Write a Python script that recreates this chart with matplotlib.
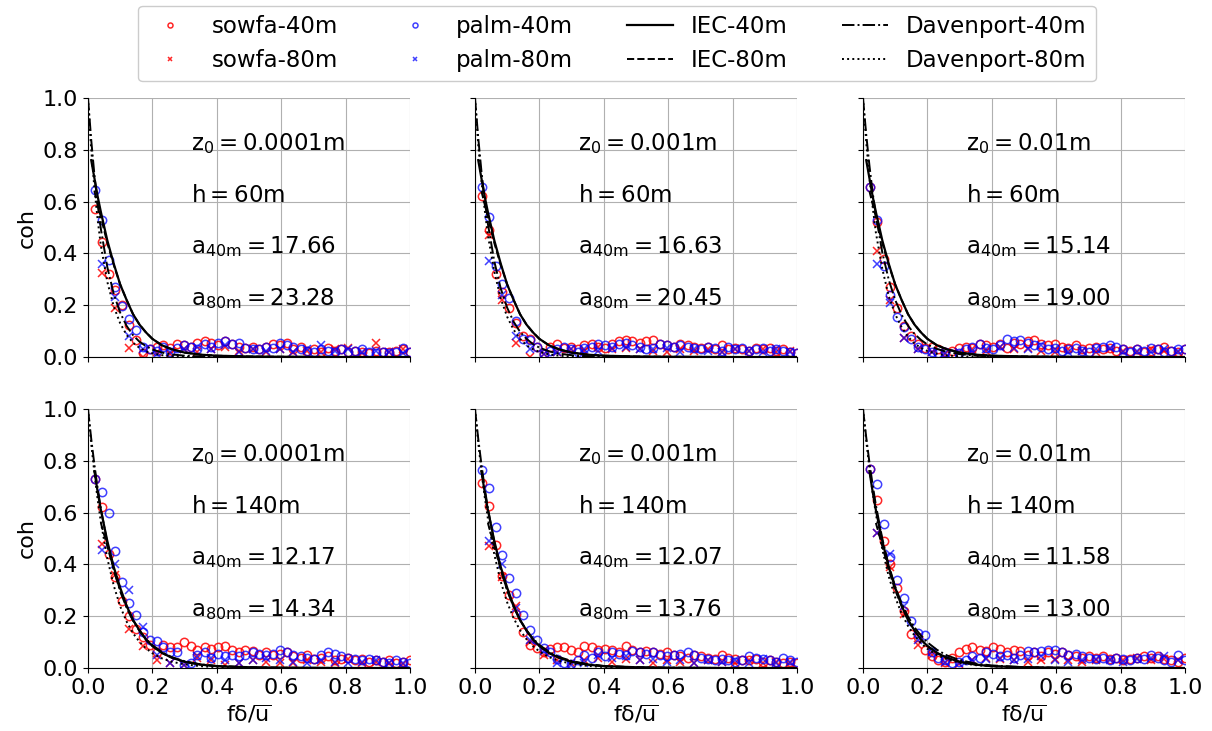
import numpy as np
import matplotlib
matplotlib.use("Agg")
import matplotlib.pyplot as plt

plt.rcParams['mathtext.default'] = 'regular'
plt.rcParams['font.family'] = ['DejaVu Sans']

nan = np.nan

# frequency axis (f*delta/u) for 40 m and 80 m separations
x40 = [0.021, 0.043, 0.064, 0.085, 0.106, 0.128, 0.149, 0.170, 0.191, 0.213,
       0.234, 0.255, 0.277, 0.298, 0.319, 0.340, 0.362, 0.383, 0.404, 0.426,
       0.447, 0.468, 0.489, 0.511, 0.532, 0.553, 0.574, 0.596, 0.617, 0.638,
       0.660, 0.681, 0.702, 0.723, 0.745, 0.766, 0.787, 0.809, 0.830, 0.851,
       0.872, 0.894, 0.915, 0.936, 0.957, 0.979, 1.000]
x80 = [0.043, 0.085, 0.128, 0.170, 0.213, 0.255, 0.298, 0.340, 0.383, 0.426,
       0.468, 0.511, 0.553, 0.596, 0.638, 0.681, 0.723, 0.766, 0.809, 0.851,
       0.894, 0.936, 0.979]
xline = [0.0, 0.01, 0.02, 0.03, 0.04, 0.06, 0.08, 0.10, 0.12, 0.14, 0.16,
         0.18, 0.20, 0.23, 0.26, 0.30, 0.35, 0.40, 0.50, 0.60, 0.80, 1.00]

panel_z0 = ['0.0001m', '0.001m', '0.01m', '0.0001m', '0.001m', '0.01m']
panel_h = ['60m', '60m', '60m', '140m', '140m', '140m']
panel_a40 = ['17.66', '16.63', '15.14', '12.17', '12.07', '11.58']
panel_a80 = ['23.28', '20.45', '19.00', '14.34', '13.76', '13.00']

# ---------- sowfa-40m ----------
sowfa40_A = [0.57, 0.445, 0.32, 0.26, 0.20, 0.125, 0.065, 0.015, 0.03, 0.04,
             0.045, 0.035, 0.05, 0.045, 0.04, 0.055, 0.06, 0.055, 0.045, 0.06,
             0.05, 0.04, 0.035, 0.04, 0.03, 0.04, 0.05, 0.045, 0.055, 0.03,
             0.04, 0.025, 0.03, 0.02, 0.035, 0.025, 0.03, 0.02, 0.025, 0.02,
             0.015, 0.025, 0.02, 0.02, 0.025, 0.03, 0.02]
sowfa40_B = [0.62, 0.49, 0.32, 0.25, 0.19, 0.13, 0.08, 0.07, 0.04, 0.01,
             0.04, 0.05, 0.035, 0.04, 0.03, 0.045, 0.05, 0.04, 0.035, 0.05,
             0.06, 0.065, 0.06, 0.055, 0.06, 0.065, 0.05, 0.045, 0.04, 0.05,
             0.045, 0.04, 0.035, 0.04, 0.03, 0.045, 0.03, 0.035, 0.03, 0.025,
             0.035, 0.03, 0.035, 0.025, 0.03, 0.02, 0.015]
sowfa40_C = [0.657, 0.52, 0.38, 0.27, 0.19, 0.12, 0.08, 0.05, 0.035, 0.04,
             0.03, 0.02, 0.025, 0.035, 0.04, 0.035, 0.05, 0.045, 0.04, 0.05,
             0.035, 0.055, 0.05, 0.06, 0.065, 0.05, 0.045, 0.05, 0.04, 0.035,
             0.045, 0.03, 0.035, 0.04, 0.03, 0.035, 0.025, 0.03, 0.025, 0.03,
             0.02, 0.025, 0.03, 0.04, 0.025, 0.02, 0.03]
sowfa40_D = [0.73, 0.62, 0.44, 0.35, 0.26, 0.20, 0.15, 0.12, 0.09, 0.06,
             0.09, 0.08, 0.08, 0.10, 0.085, 0.07, 0.08, 0.075, 0.08, 0.085,
             0.07, 0.06, 0.07, 0.065, 0.05, 0.06, 0.05, 0.055, 0.06, 0.045,
             0.04, 0.05, 0.035, 0.04, 0.045, 0.03, 0.035, 0.04, 0.03, 0.035,
             0.025, 0.03, 0.025, 0.03, 0.02, 0.025, 0.03]
sowfa40_E = [0.715, 0.625, 0.476, 0.355, 0.283, 0.21, 0.14, 0.09, 0.077, 0.063,
             0.075, 0.08, 0.08, 0.07, 0.06, 0.085, 0.08, 0.07, 0.075, 0.07,
             0.06, 0.085, 0.07, 0.06, 0.065, 0.06, 0.055, 0.06, 0.05, 0.045,
             0.04, 0.05, 0.045, 0.04, 0.035, 0.05, 0.04, 0.035, 0.03, 0.03,
             0.035, 0.025, 0.03, 0.025, 0.02, 0.025, 0.02]
sowfa40_F = [0.77, 0.65, 0.49, 0.40, 0.31, 0.22, 0.13, 0.12, 0.07, 0.045,
             0.03, 0.025, 0.04, 0.06, 0.075, 0.08, 0.07, 0.065, 0.08, 0.075,
             0.06, 0.07, 0.065, 0.05, 0.06, 0.045, 0.06, 0.055, 0.06, 0.05,
             0.045, 0.04, 0.045, 0.04, 0.045, 0.035, 0.04, 0.03, 0.035, 0.04,
             0.045, 0.04, 0.045, 0.035, 0.03, 0.025, 0.04]

# ---------- palm-40m ----------
palm40_A = [0.645, 0.53, 0.375, 0.27, 0.197, 0.145, 0.105, 0.04, 0.03, 0.025,
            0.04, 0.02, 0.035, 0.045, 0.04, 0.03, 0.05, 0.04, 0.055, 0.06,
            0.05, 0.055, 0.035, 0.03, 0.03, 0.04, 0.035, 0.055, 0.045, 0.04,
            0.03, 0.025, 0.02, 0.03, 0.025, 0.02, 0.03, 0.02, 0.025, 0.03,
            0.02, 0.015, 0.02, 0.015, 0.02, 0.035, 0.02]
palm40_B = [0.657, 0.54, 0.35, 0.28, 0.226, 0.14, 0.07, 0.066, 0.04, 0.01,
            0.025, 0.03, 0.04, 0.03, 0.02, 0.035, 0.04, 0.05, 0.045, 0.04,
            0.05, 0.055, 0.045, 0.04, 0.03, 0.035, 0.05, 0.045, 0.04, 0.045,
            0.04, 0.035, 0.03, 0.04, 0.035, 0.025, 0.04, 0.03, 0.035, 0.025,
            0.03, 0.035, 0.025, 0.03, 0.025, 0.02, 0.015]
palm40_C = [0.657, 0.528, 0.35, 0.24, 0.155, 0.115, 0.07, 0.04, 0.03, 0.02,
            0.015, 0.02, 0.01, 0.015, 0.03, 0.04, 0.05, 0.035, 0.03, 0.045,
            0.07, 0.06, 0.065, 0.055, 0.045, 0.04, 0.03, 0.035, 0.025, 0.03,
            0.035, 0.025, 0.02, 0.035, 0.04, 0.045, 0.04, 0.03, 0.02, 0.03,
            0.025, 0.035, 0.03, 0.02, 0.025, 0.03, 0.03]
palm40_D = [0.73, 0.68, 0.60, 0.452, 0.332, 0.25, 0.205, 0.14, 0.108, 0.105,
            0.08, 0.06, 0.06, 0.01, 0.02, 0.05, 0.06, 0.04, 0.055, 0.045,
            0.05, 0.045, 0.05, 0.06, 0.055, 0.05, 0.055, 0.07, 0.06, 0.05,
            0.045, 0.04, 0.035, 0.05, 0.06, 0.055, 0.045, 0.04, 0.035, 0.03,
            0.035, 0.03, 0.025, 0.02, 0.03, 0.025, 0.02]
palm40_E = [0.765, 0.694, 0.545, 0.436, 0.346, 0.29, 0.205, 0.147, 0.108, 0.077,
            0.06, 0.035, 0.02, 0.015, 0.03, 0.05, 0.04, 0.06, 0.045, 0.06,
            0.055, 0.05, 0.065, 0.06, 0.055, 0.06, 0.05, 0.045, 0.05, 0.055,
            0.06, 0.05, 0.04, 0.035, 0.03, 0.035, 0.03, 0.025, 0.03, 0.045,
            0.04, 0.035, 0.03, 0.025, 0.04, 0.03, 0.025]
palm40_F = [0.77, 0.71, 0.555, 0.43, 0.34, 0.27, 0.18, 0.136, 0.127, 0.06,
            0.04, 0.03, 0.02, 0.025, 0.03, 0.045, 0.04, 0.06, 0.055, 0.045,
            0.05, 0.04, 0.05, 0.065, 0.06, 0.065, 0.07, 0.07, 0.06, 0.05,
            0.055, 0.045, 0.04, 0.035, 0.04, 0.03, 0.04, 0.035, 0.03, 0.04,
            0.035, 0.05, 0.04, 0.03, 0.025, 0.05, 0.03]

# ---------- sowfa-80m ----------
sowfa80_A = [0.325, 0.19, 0.034, 0.0, 0.02, 0.01, 0.03, 0.02, 0.03, 0.04, 0.025, 0.03,
             0.02, 0.03, 0.02, 0.025, 0.02, 0.03, 0.035, 0.015, 0.055, 0.02, 0.03]
sowfa80_B = [0.47, 0.22, 0.055, 0.0, 0.01, 0.02, 0.03, 0.025, 0.04, 0.03, 0.035, 0.03,
             0.025, 0.02, 0.03, 0.025, 0.03, 0.02, 0.03, 0.025, 0.03, 0.02, 0.025]
sowfa80_C = [0.41, 0.22, 0.075, 0.03, 0.02, 0.01, 0.02, 0.03, 0.025, 0.04, 0.03, 0.035,
             0.025, 0.02, 0.03, 0.025, 0.02, 0.03, 0.025, 0.02, 0.03, 0.025, 0.02]
sowfa80_D = [0.48, 0.36, 0.15, 0.085, 0.03, 0.02, 0.01, 0.04, 0.03, 0.01, 0.02, 0.03,
             0.025, 0.02, 0.02, 0.03, 0.025, 0.02, 0.035, 0.02, 0.025, 0.02, 0.015]
sowfa80_E = [0.47, 0.35, 0.24, 0.10, 0.05, 0.03, 0.02, 0.03, 0.04, 0.025, 0.035, 0.03,
             0.02, 0.03, 0.025, 0.02, 0.03, 0.025, 0.02, 0.03, 0.02, 0.025, 0.02]
sowfa80_F = [0.52, 0.39, 0.21, 0.09, 0.05, 0.02, 0.015, 0.03, 0.04, 0.035, 0.03, 0.025,
             0.03, 0.035, 0.03, 0.025, 0.03, 0.035, 0.03, 0.04, 0.03, 0.035, 0.03]

# ---------- palm-80m ----------
palm80_A = [0.36, 0.23, 0.08, 0.03, 0.01, 0.02, 0.03, 0.04, 0.03, 0.045, 0.02, 0.03,
            0.025, 0.03, 0.02, 0.03, 0.045, 0.025, 0.03, 0.02, 0.025, 0.02, 0.015]
palm80_B = [0.37, 0.24, 0.08, 0.03, 0.01, 0.02, 0.03, 0.03, 0.025, 0.035, 0.04, 0.03,
            0.03, 0.035, 0.02, 0.03, 0.025, 0.02, 0.03, 0.025, 0.02, 0.03, 0.02]
palm80_C = [0.36, 0.21, 0.075, 0.03, 0.02, 0.015, 0.02, 0.025, 0.03, 0.04, 0.035, 0.03,
            0.045, 0.03, 0.02, 0.025, 0.03, 0.035, 0.02, 0.025, 0.02, 0.03, 0.025]
palm80_D = [0.455, 0.40, 0.30, 0.16, 0.05, 0.02, 0.01, 0.045, 0.04, 0.03, 0.02, 0.03,
            0.04, 0.03, 0.025, 0.02, 0.03, 0.025, 0.02, 0.025, 0.03, 0.02, 0.02]
palm80_E = [0.49, 0.40, 0.23, 0.11, 0.065, 0.02, 0.01, 0.02, 0.05, 0.04, 0.045, 0.03,
            0.035, 0.025, 0.03, 0.02, 0.03, 0.025, 0.03, 0.02, 0.035, 0.02, 0.025]
palm80_F = [0.52, 0.44, 0.24, 0.11, 0.06, 0.025, 0.02, 0.03, 0.035, 0.04, 0.03, 0.035,
            0.045, 0.03, 0.025, 0.03, 0.035, 0.03, 0.025, 0.035, 0.04, 0.045, 0.03]

# ---------- model curves (sampled at xline) ----------
iec40_top = [nan, 0.76, 0.69, 0.62, 0.56, 0.45, 0.36, 0.28, 0.22, 0.165, 0.125,
             0.095, 0.07, 0.045, 0.03, 0.017, 0.009, 0.005, 0.002, 0.001, 0.0, 0.0]
iec80_top = [nan, nan, 0.64, 0.59, 0.54, 0.44, 0.355, 0.28, 0.22, 0.165, 0.125,
             0.095, 0.07, 0.045, 0.03, 0.017, 0.009, 0.005, 0.002, 0.001, 0.0, 0.0]
iec40_bot = [nan, nan, 0.76, 0.68, 0.61, 0.49, 0.39, 0.31, 0.24, 0.185, 0.145,
             0.11, 0.085, 0.058, 0.04, 0.024, 0.013, 0.007, 0.003, 0.001, 0.0, 0.0]
iec80_bot = [nan, nan, nan, nan, 0.56, 0.47, 0.38, 0.30, 0.24, 0.185, 0.145,
             0.11, 0.085, 0.058, 0.04, 0.024, 0.013, 0.007, 0.003, 0.001, 0.0, 0.0]

dav40_A = [1.0, 0.838, 0.702, 0.589, 0.494, 0.347, 0.243, 0.171, 0.120, 0.084, 0.059,
           0.042, 0.029, 0.017, 0.010, 0.005, 0.002, 0.001, 0.0, 0.0, 0.0, 0.0]
dav40_B = [1.0, 0.847, 0.717, 0.607, 0.514, 0.369, 0.264, 0.190, 0.136, 0.097, 0.070,
           0.050, 0.036, 0.022, 0.013, 0.007, 0.003, 0.001, 0.0, 0.0, 0.0, 0.0]
dav40_C = [1.0, 0.859, 0.739, 0.635, 0.546, 0.403, 0.298, 0.220, 0.163, 0.120, 0.089,
           0.066, 0.048, 0.031, 0.020, 0.011, 0.005, 0.002, 0.001, 0.0, 0.0, 0.0]
dav40_D = [1.0, 0.885, 0.784, 0.694, 0.615, 0.482, 0.378, 0.296, 0.232, 0.182, 0.143,
           0.112, 0.088, 0.061, 0.042, 0.026, 0.014, 0.008, 0.002, 0.001, 0.0, 0.0]
dav40_E = [1.0, 0.886, 0.786, 0.696, 0.617, 0.485, 0.381, 0.299, 0.235, 0.185, 0.145,
           0.114, 0.089, 0.062, 0.043, 0.027, 0.015, 0.008, 0.002, 0.001, 0.0, 0.0]
dav40_F = [1.0, 0.891, 0.793, 0.707, 0.629, 0.499, 0.396, 0.314, 0.249, 0.198, 0.157,
           0.125, 0.099, 0.070, 0.049, 0.031, 0.017, 0.010, 0.003, 0.001, 0.0, 0.0]

dav80_A = [1.0, 0.80, 0.65, 0.53, 0.43, 0.29, 0.195, 0.13, 0.085, 0.055, 0.035,
           0.022, 0.014, 0.007, 0.003, 0.001, 0.0, 0.0, 0.0, 0.0, 0.0, 0.0]
dav80_B = [1.0, 0.82, 0.68, 0.57, 0.47, 0.33, 0.225, 0.155, 0.105, 0.07, 0.045,
           0.03, 0.02, 0.01, 0.005, 0.002, 0.001, 0.0, 0.0, 0.0, 0.0, 0.0]
dav80_C = [1.0, 0.83, 0.69, 0.58, 0.48, 0.34, 0.235, 0.165, 0.115, 0.078, 0.052,
           0.035, 0.023, 0.012, 0.006, 0.003, 0.001, 0.0, 0.0, 0.0, 0.0, 0.0]
dav80_D = [1.0, 0.866, 0.751, 0.650, 0.563, 0.423, 0.318, 0.238, 0.179, 0.134, 0.101,
           0.076, 0.057, 0.037, 0.024, 0.014, 0.007, 0.003, 0.001, 0.0, 0.0, 0.0]
dav80_E = [1.0, 0.871, 0.759, 0.662, 0.577, 0.438, 0.333, 0.253, 0.192, 0.146, 0.111,
           0.084, 0.064, 0.042, 0.028, 0.016, 0.008, 0.004, 0.001, 0.0, 0.0, 0.0]
dav80_F = [1.0, 0.878, 0.771, 0.677, 0.595, 0.458, 0.353, 0.273, 0.210, 0.162, 0.125,
           0.096, 0.074, 0.050, 0.034, 0.020, 0.011, 0.006, 0.0015, 0.0, 0.0, 0.0]

sowfa40 = [sowfa40_A, sowfa40_B, sowfa40_C, sowfa40_D, sowfa40_E, sowfa40_F]
palm40 = [palm40_A, palm40_B, palm40_C, palm40_D, palm40_E, palm40_F]
sowfa80 = [sowfa80_A, sowfa80_B, sowfa80_C, sowfa80_D, sowfa80_E, sowfa80_F]
palm80 = [palm80_A, palm80_B, palm80_C, palm80_D, palm80_E, palm80_F]
iec40 = [iec40_top] * 3 + [iec40_bot] * 3
iec80 = [iec80_top] * 3 + [iec80_bot] * 3
dav40 = [dav40_A, dav40_B, dav40_C, dav40_D, dav40_E, dav40_F]
dav80 = [dav80_A, dav80_B, dav80_C, dav80_D, dav80_E, dav80_F]

FS = 16
FS_TXT = 16.5
fig = plt.figure(figsize=(12.12, 7.31), dpi=100)
W, H = 1212.0, 731.0
lefts = [88, 475, 863]
tops = [98, 409]
aw, ah = 322, 259

handles = None
for i in range(6):
    r, c = divmod(i, 3)
    ax = fig.add_axes([lefts[c] / W, 1 - (tops[r] + ah) / H, aw / W, ah / H])
    ax.set_axisbelow(True)
    ax.grid(True, color='#b0b0b0', lw=0.8)
    ms_o, ms_x = 6, 6
    h1, = ax.plot(x40, sowfa40[i], 'o', mfc='none', mec='r', ms=ms_o, mew=1.1, alpha=0.85, label='sowfa-40m')
    h2, = ax.plot(x80, sowfa80[i], 'x', color='r', ms=ms_x, mew=1.1, alpha=0.85, label='sowfa-80m')
    h3, = ax.plot(x40, palm40[i], 'o', mfc='none', mec='b', ms=ms_o, mew=1.1, alpha=0.75, label='palm-40m')
    h4, = ax.plot(x80, palm80[i], 'x', color='b', ms=ms_x, mew=1.1, alpha=0.75, label='palm-80m')
    h5, = ax.plot(xline, iec40[i], '-', color='k', lw=1.6, label='IEC-40m')
    h6, = ax.plot(xline, iec80[i], '--', color='k', lw=1.4, label='IEC-80m')
    h7, = ax.plot(xline, dav40[i], '-.', color='k', lw=1.4, label='Davenport-40m')
    h8, = ax.plot(xline, dav80[i], ':', color='k', lw=1.4, label='Davenport-80m')
    handles = [h1, h2, h3, h4, h5, h6, h7, h8]
    ax.set_xlim(0, 1)
    ax.set_ylim(0, 1)
    ax.set_xticks([0, 0.2, 0.4, 0.6, 0.8, 1.0])
    ax.set_yticks([0, 0.2, 0.4, 0.6, 0.8, 1.0])
    ax.spines['top'].set_visible(False)
    ax.spines['right'].set_visible(False)
    ax.tick_params(labelsize=FS)
    if c != 0:
        ax.set_yticklabels([])
    else:
        ax.set_ylabel('coh', fontsize=FS)
    if r == 0:
        ax.set_xticklabels([])
    else:
        ax.set_xlabel(r'$f\delta/\overline{u}$', fontsize=FS)
    ax.text(0.32, 0.8, r'$z_0 = ' + panel_z0[i] + r'$', fontsize=FS_TXT)
    ax.text(0.32, 0.6, r'$h = ' + panel_h[i] + r'$', fontsize=FS_TXT)
    ax.text(0.32, 0.4, r'$a_{40m} = ' + panel_a40[i] + r'$', fontsize=FS_TXT)
    ax.text(0.32, 0.2, r'$a_{80m} = ' + panel_a80[i] + r'$', fontsize=FS_TXT)

fig.legend(handles=handles, loc='upper center', bbox_to_anchor=(0.509, 1.008),
           ncol=4, fontsize=16.5, markerscale=0.6, columnspacing=2.35,
           handlelength=2.0, framealpha=1.0, edgecolor='#cccccc')

fig.savefig('out.png', dpi=100)
